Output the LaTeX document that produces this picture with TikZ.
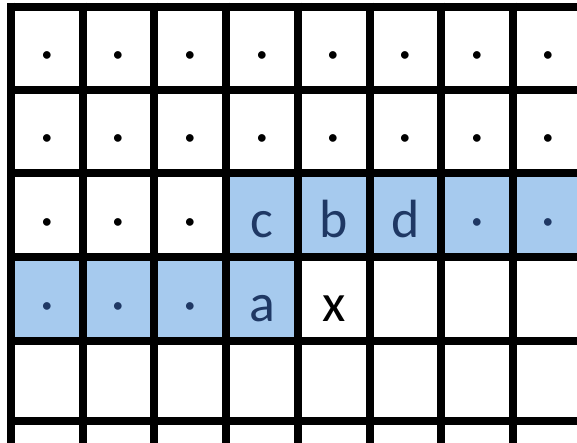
\documentclass[tikz,border=0pt]{standalone}
\usepackage{fontspec}
\setmainfont{Carlito}
\definecolor{cellblue}{RGB}{166,202,238}
\definecolor{inknavy}{RGB}{31,56,100}
\begin{document}
\begin{tikzpicture}[x=1bp,y=-1bp,
  gridline/.style={line width=8bp,black},
  bluecell/.style={fill=cellblue},
  lbl/.style={anchor=base,inner sep=0pt,font=\fontsize{54}{54}\selectfont},
  dk/.style={lbl,text=black},
  nv/.style={lbl,text=inknavy}]
\useasboundingbox (0,0) rectangle (577,443);
% blue cells
\path[bluecell] (226.1,173.5) rectangle (577,257);
\path[bluecell] (11,257) rectangle (297.8,340.5);
% grid
\foreach \x in {11,82.7,154.4,226.1,297.8,369.5,441.2,512.9}
  \draw[gridline] (\x,2.7) -- (\x,443);
\foreach \y in {6.7,90,173.5,257,340.5,420.5}
  \draw[gridline] (7,\y) -- (577,\y);
% dots rows 0 and 1
\foreach \r/\b in {0/70.5,1/154}
  \foreach \c/\x in {0/46.85,1/118.55,2/190.25,3/261.95,4/333.65,5/405.35,6/477.05,7/548.75}
    \node[dk] (p\r\c) at (\x,\b) {·};
% row 2
\foreach \c/\x in {0/46.85,1/118.55,2/190.25}
  \node[dk] (p2\c) at (\x,237.5) {·};
\node[nv] (c) at (261.95,237.5) {c};
\node[nv] (b) at (333.65,237.5) {b};
\node[nv] (d) at (405.35,237.5) {d};
\node[nv] (p26) at (477.05,237.5) {·};
\node[nv] (p27) at (548.75,237.5) {·};
% row 3
\foreach \c/\x in {0/46.85,1/118.55,2/190.25}
  \node[nv] (p3\c) at (\x,321) {·};
\node[nv] (a) at (261.95,321) {a};
\node[dk] (xx) at (333.65,321) {x};
\end{tikzpicture}
\end{document}
